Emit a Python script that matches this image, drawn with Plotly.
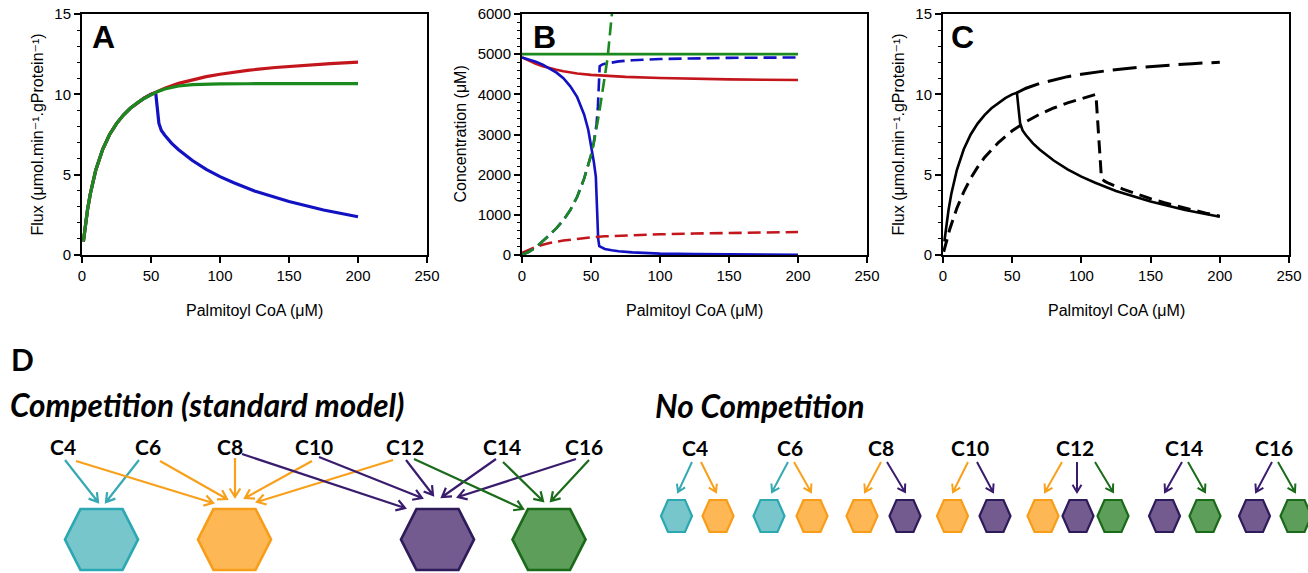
import math
import plotly.graph_objects as go

# ---------------- data ----------------
# Panel A: flux (umol/min/gProtein) vs palmitoyl-CoA (uM)
a_red_x = [1, 2, 4, 6, 8, 10, 15, 20, 25, 30, 35, 40, 45, 50, 60, 70, 80, 90, 100, 120, 140, 160, 180, 200]
a_red_y = [0.84, 1.58, 2.81, 3.80, 4.61, 5.29, 6.58, 7.50, 8.18, 8.71, 9.13, 9.47, 9.76, 10.0, 10.38, 10.68,
           10.91, 11.10, 11.25, 11.49, 11.67, 11.80, 11.91, 12.0]
a_green_x = [1, 2, 4, 6, 8, 10, 15, 20, 25, 30, 35, 40, 45, 50, 55, 60, 70, 80, 90, 100, 120, 150, 200]
a_green_y = [0.84, 1.58, 2.81, 3.80, 4.61, 5.29, 6.58, 7.50, 8.18, 8.71, 9.13, 9.47, 9.74, 9.98, 10.18, 10.33,
             10.52, 10.60, 10.64, 10.65, 10.66, 10.67, 10.67]
a_blue_x = [1, 2, 4, 6, 8, 10, 15, 20, 25, 30, 35, 40, 45, 50, 53.4, 55.7, 57.5, 60, 65, 70, 75, 80, 90, 100,
            110, 125, 150, 175, 200]
a_blue_y = [0.84, 1.58, 2.81, 3.80, 4.61, 5.29, 6.58, 7.50, 8.18, 8.71, 9.13, 9.47, 9.76, 10.0, 10.1, 8.2, 7.75,
            7.45, 6.95, 6.55, 6.2, 5.88, 5.33, 4.88, 4.5, 3.98, 3.33, 2.8, 2.38]

# Panel B: concentrations (uM)
b_green_x = [0, 200]
b_green_y = [5000, 5000]
b_red_x = [0, 5, 10, 15, 20, 25, 30, 40, 50, 60, 75, 100, 125, 150, 175, 200]
b_red_y = [4920, 4830, 4760, 4700, 4650, 4610, 4575, 4520, 4485, 4460, 4435, 4405, 4385, 4372, 4364, 4358]
b_blue_x = [0, 5, 10, 15, 20, 25, 30, 35, 40, 45, 48, 50, 52, 53.5, 54.5, 55.2, 56, 58, 60, 65, 70, 80, 90,
            100, 125, 150, 175, 200]
b_blue_y = [4920, 4870, 4810, 4740, 4650, 4540, 4400, 4200, 3930, 3500, 3120, 2740, 2330, 1950, 1200, 400, 220,
            180, 150, 120, 95, 65, 45, 35, 22, 14, 8, 5]
b_bluedash_x = [0, 5, 10, 15, 20, 25, 30, 35, 40, 45, 50, 52, 54, 55, 55.6, 56.3, 58, 60, 70, 80, 100, 125,
                150, 200]
b_bluedash_y = [0, 80, 190, 340, 500, 670, 870, 1120, 1450, 1900, 2480, 2800, 3250, 3700, 4300, 4700, 4740,
                4760, 4820, 4850, 4880, 4898, 4908, 4918]
b_greendash_x = [0, 5, 10, 15, 20, 25, 30, 35, 40, 45, 50, 52, 54, 56, 58, 60, 61, 62, 63, 64, 65, 66]
b_greendash_y = [0, 80, 190, 340, 500, 670, 870, 1120, 1450, 1900, 2480, 2780, 3150, 3550, 4000, 4450, 4650,
                 4900, 5250, 5600, 5950, 6300]
b_reddash_x = [0, 5, 10, 15, 20, 30, 40, 50, 60, 75, 100, 125, 150, 175, 200]
b_reddash_y = [50, 130, 200, 255, 300, 360, 405, 440, 465, 490, 515, 535, 550, 562, 572]

# Panel C: flux, black lines
c_solid_x = [1, 2, 4, 6, 8, 10, 15, 20, 25, 30, 35, 40, 45, 50, 53.4, 55.7, 57.5, 60, 65, 70, 75, 80, 90, 100,
             110, 125, 150, 175, 200]
c_solid_y = [0.84, 1.58, 2.81, 3.80, 4.61, 5.29, 6.58, 7.50, 8.18, 8.71, 9.13, 9.47, 9.76, 10.0, 10.1, 8.2,
             7.75, 7.45, 6.95, 6.55, 6.2, 5.88, 5.33, 4.88, 4.5, 3.98, 3.33, 2.8, 2.38]
c_up_x = [53.4, 55, 60, 70, 80, 90, 100, 120, 140, 160, 180, 200]
c_up_y = [10.1, 10.18, 10.38, 10.68, 10.91, 11.10, 11.25, 11.49, 11.67, 11.80, 11.91, 12.0]
c_low_x = [0.5, 2.5, 5, 10, 15, 20, 25, 30, 40, 50, 60, 70, 80, 90, 100, 110.5, 114.5, 117, 120, 130, 140,
           150, 160, 170, 180, 190, 200]
c_low_y = [0.2, 0.87, 1.64, 2.91, 3.93, 4.77, 5.47, 6.07, 7.0, 7.73, 8.3, 8.77, 9.15, 9.47, 9.75, 10.0, 4.75,
           4.58, 4.45, 4.1, 3.8, 3.5, 3.25, 3.02, 2.8, 2.6, 2.42]

# Panel D: substrate chain lengths and enzyme specificities
chains = ["C4", "C6", "C8", "C10", "C12", "C14", "C16"]
enzymes = ["SCAD", "MCAD", "LCAD", "VLCAD"]
specificity = {
    "SCAD": ["C4", "C6"],
    "MCAD": ["C4", "C6", "C8", "C10", "C12"],
    "LCAD": ["C8", "C10", "C12", "C14", "C16"],
    "VLCAD": ["C12", "C14", "C16"],
}

# ---------------- styling / layout constants ----------------
W, H = 1308, 573
RED, GREEN, BLUE = "#C3161C", "#1B8A1E", "#1212C2"
FILL = {"SCAD": "#76C6CB", "MCAD": "#FDB855", "LCAD": "#735A8F", "VLCAD": "#5C9E5A"}
STROKE = {"SCAD": "#2CA8B2", "MCAD": "#F89D1A", "LCAD": "#2D1B5A", "VLCAD": "#1A6A1A"}
ARROW = {"SCAD": "#36A9B3", "MCAD": "#F8A01C", "LCAD": "#3A1C6E", "VLCAD": "#1A6B1A"}
AX_FONT = "Liberation Sans, Arial, DejaVu Sans, sans-serif"
D_FONT = "Lato, Open Sans, sans-serif"

# plot-area pixel boxes (left, right) ; shared top/bottom
PX = {"A": (82, 427), "B": (522, 867), "C": (943, 1289)}
TOP, BOT = 14, 255

# diagram positions (pixels)
comp_label_x = {"C4": 63, "C6": 148, "C8": 230, "C10": 314, "C12": 405, "C14": 502, "C16": 584}
comp_hex_x = {"SCAD": 101.5, "MCAD": 234.5, "LCAD": 437.5, "VLCAD": 549}
comp_arrows = {
    ("C4", "SCAD"): ((65, 460), (98, 502)),
    ("C6", "SCAD"): ((139, 460), (106, 502)),
    ("C4", "MCAD"): ((76, 461), (213, 503)),
    ("C6", "MCAD"): ((160, 461), (227, 499)),
    ("C8", "MCAD"): ((235, 458), (235, 497)),
    ("C10", "MCAD"): ((312, 461), (245, 498)),
    ("C12", "MCAD"): ((393, 460), (257, 502)),
    ("C8", "LCAD"): ((242, 454), (405, 508)),
    ("C10", "LCAD"): ((319, 457), (422, 498)),
    ("C12", "LCAD"): ((406, 460), (433, 495)),
    ("C14", "LCAD"): ((496, 459), (442, 497)),
    ("C16", "LCAD"): ((576, 459), (458, 497)),
    ("C12", "VLCAD"): ((414, 459), (523, 509)),
    ("C14", "VLCAD"): ((503, 462), (543, 501)),
    ("C16", "VLCAD"): ((589, 460), (551, 501)),
}
nc_label_x = {"C4": 695, "C6": 790, "C8": 881, "C10": 970, "C12": 1075, "C14": 1184, "C16": 1274}
nc_hex_x = {
    ("C4", "SCAD"): 676.5, ("C4", "MCAD"): 718,
    ("C6", "SCAD"): 769, ("C6", "MCAD"): 812,
    ("C8", "MCAD"): 862, ("C8", "LCAD"): 905,
    ("C10", "MCAD"): 952.5, ("C10", "LCAD"): 995,
    ("C12", "MCAD"): 1043, ("C12", "LCAD"): 1078, ("C12", "VLCAD"): 1113,
    ("C14", "LCAD"): 1164.5, ("C14", "VLCAD"): 1205,
    ("C16", "LCAD"): 1254.5, ("C16", "VLCAD"): 1296,
}
nc_arrows = {
    ("C4", "SCAD"): ((692, 462), (678, 492)),
    ("C4", "MCAD"): ((701, 462), (716, 492)),
    ("C6", "SCAD"): ((788, 462), (772, 492)),
    ("C6", "MCAD"): ((794, 462), (811, 492)),
    ("C8", "MCAD"): ((881, 462), (865, 492)),
    ("C8", "LCAD"): ((887, 462), (905, 492)),
    ("C10", "MCAD"): ((968, 462), (953, 492)),
    ("C10", "LCAD"): ((977, 462), (993, 492)),
    ("C12", "MCAD"): ((1062, 462), (1045, 492)),
    ("C12", "LCAD"): ((1077, 462), (1077, 492)),
    ("C12", "VLCAD"): ((1095, 462), (1113, 492)),
    ("C14", "LCAD"): ((1182, 462), (1165, 492)),
    ("C14", "VLCAD"): ((1188, 462), (1205, 492)),
    ("C16", "LCAD"): ((1272, 462), (1256, 492)),
    ("C16", "VLCAD"): ((1278, 462), (1295, 492)),
}

# ---------------- figure ----------------
fig = go.Figure()


def line(x, y, color, width, dash="solid", ax="1"):
    fig.add_trace(go.Scatter(
        x=x, y=y, mode="lines", line=dict(color=color, width=width, dash=dash),
        xaxis="x" if ax == "1" else "x" + ax, yaxis="y" if ax == "1" else "y" + ax,
        showlegend=False, hoverinfo="skip"))


# Panel A
line(a_blue_x, a_blue_y, BLUE, 3.2)
line(a_red_x, a_red_y, RED, 3.2)
line(a_green_x, a_green_y, GREEN, 3.2)
# Panel B
line(b_green_x, b_green_y, GREEN, 2.6, ax="2")
line(b_red_x, b_red_y, RED, 2.6, ax="2")
line(b_blue_x, b_blue_y, BLUE, 2.6, ax="2")
line(b_reddash_x, b_reddash_y, RED, 2.6, "13px,6px", ax="2")
line(b_bluedash_x, b_bluedash_y, BLUE, 2.6, "13px,6px", ax="2")
line(b_greendash_x, b_greendash_y, GREEN, 2.6, "13px,6px", ax="2")
# Panel C
line(c_solid_x, c_solid_y, "black", 2.6, ax="3")
line(c_up_x, c_up_y, "black", 3, "24px,9px", ax="3")
line(c_low_x, c_low_y, "black", 3, "13px,7px", ax="3")
# dummy for diagram axes
fig.add_trace(go.Scatter(x=[None], y=[None], xaxis="x4", yaxis="y4", showlegend=False, hoverinfo="skip"))


def xdom(key):
    l, r = PX[key]
    return [l / W, r / W]


ydom = [1 - BOT / H, 1 - TOP / H]


def axis(dom, rng, dtick, anchor, minor=None, ticklen=6):
    d = dict(domain=dom, range=rng, dtick=dtick, tick0=0, anchor=anchor, automargin=False,
             showline=True, linecolor="black", linewidth=2, mirror=True,
             ticks="outside", ticklen=ticklen, tickwidth=1.5, tickcolor="black",
             showgrid=False, zeroline=False, fixedrange=True,
             tickfont=dict(family=AX_FONT, size=15, color="black"))
    if minor:
        d["minor"] = dict(dtick=minor, tick0=0, ticks="outside", ticklen=3, tickwidth=1,
                          tickcolor="black", showgrid=False)
    return d


fig.update_layout(
    template="none",
    width=W, height=H, margin=dict(l=0, r=0, t=0, b=0, pad=0, autoexpand=False),
    paper_bgcolor="white", plot_bgcolor="rgba(0,0,0,0)", showlegend=False,
    xaxis=axis(xdom("A"), [0, 250], 50, "y"),
    yaxis=axis(ydom, [0, 15], 5, "x", minor=1),
    xaxis2=axis(xdom("B"), [0, 250], 50, "y2"),
    yaxis2=axis(ydom, [0, 6000], 1000, "x2", minor=200),
    xaxis3=axis(xdom("C"), [0, 250], 50, "y3"),
    yaxis3=axis(ydom, [0, 15], 5, "x3", minor=1),
    xaxis4=dict(domain=[0, 1], range=[0, W], visible=False, fixedrange=True, anchor="y4", automargin=False),
    yaxis4=dict(domain=[0, 1 - 330 / H], range=[H, 330], visible=False, fixedrange=True, anchor="x4",
                automargin=False),
)

ann = []
# axis titles and panel letters
flux_title = "Flux (\u03bcmol.min\u207b\u00b9.gProtein\u207b\u00b9)"
for key, ytitle, ytx, letter, lx in [("A", flux_title, 37, "A", 103),
                                     ("B", "Concentration (\u03bcM)", 460, "B", 544),
                                     ("C", flux_title, 898, "C", 962)]:
    l, r = PX[key]
    ann.append(dict(x=(l + r) / 2 / W, y=1 - 310 / H, xref="paper", yref="paper",
                    text="Palmitoyl CoA (\u03bcM)", showarrow=False,
                    font=dict(family=AX_FONT, size=16, color="black"), xanchor="center", yanchor="middle"))
    ann.append(dict(x=ytx / W, y=1 - (TOP + BOT) / 2 / H, xref="paper", yref="paper",
                    text=ytitle, textangle=-90, showarrow=False,
                    font=dict(family=AX_FONT, size=16, color="black"), xanchor="center", yanchor="middle"))
    ann.append(dict(x=lx / W, y=1 - 37 / H, xref="paper", yref="paper",
                    text="<b>%s</b>" % letter, showarrow=False,
                    font=dict(family=AX_FONT, size=32, color="black"), xanchor="center", yanchor="middle"))

# Diagram texts
ann.append(dict(x=9, y=359, xref="x4", yref="y4", text="<b>D</b>", showarrow=False,
                font=dict(family=D_FONT, size=30, color="black"), xanchor="left", yanchor="middle"))
ann.append(dict(x=8, y=405, xref="x4", yref="y4", text="<b><i>Competition (standard model)</i></b>",
                showarrow=False, font=dict(family=D_FONT, size=31.5, color="black"),
                xanchor="left", yanchor="middle"))
ann.append(dict(x=653, y=406, xref="x4", yref="y4", text="<b><i>No Competition</i></b>",
                showarrow=False, font=dict(family=D_FONT, size=31.5, color="black"),
                xanchor="left", yanchor="middle"))
for c in chains:
    ann.append(dict(x=comp_label_x[c], y=446, xref="x4", yref="y4", text="<b>%s</b>" % c, showarrow=False,
                    font=dict(family=D_FONT, size=21, color="black"), xanchor="center", yanchor="middle"))
    ann.append(dict(x=nc_label_x[c], y=447, xref="x4", yref="y4", text="<b>%s</b>" % c, showarrow=False,
                    font=dict(family=D_FONT, size=21, color="black"), xanchor="center", yanchor="middle"))

shapes = []


def hexagon(cx, cy, hw, he, hh, enz, lw):
    p = (f"M{cx - hw},{cy} L{cx - he},{cy - hh} L{cx + he},{cy - hh} L{cx + hw},{cy} "
         f"L{cx + he},{cy + hh} L{cx - he},{cy + hh} Z")
    shapes.append(dict(type="path", path=p, xref="x4", yref="y4", fillcolor=FILL[enz],
                       line=dict(color=STROKE[enz], width=lw), layer="above"))


def arrow(p0, p1, color, lw=2.2, head=10, ang=32):
    (x0, y0), (x1, y1) = p0, p1
    dx, dy = x1 - x0, y1 - y0
    n = math.hypot(dx, dy)
    ux, uy = dx / n, dy / n
    a = math.radians(ang)
    lx = x1 - head * (ux * math.cos(a) - uy * math.sin(a))
    ly = y1 - head * (ux * math.sin(a) + uy * math.cos(a))
    rx = x1 - head * (ux * math.cos(a) + uy * math.sin(a))
    ry = y1 - head * (-ux * math.sin(a) + uy * math.cos(a))
    p = f"M{x0},{y0} L{x1},{y1} M{lx:.2f},{ly:.2f} L{x1},{y1} L{rx:.2f},{ry:.2f}"
    shapes.append(dict(type="path", path=p, xref="x4", yref="y4",
                       line=dict(color=color, width=lw), layer="above"))


# competition diagram
for enz in enzymes:
    hexagon(comp_hex_x[enz], 539.5, 36.5, 21, 30.5, enz, 2.7)
    for c in specificity[enz]:
        arrow(*comp_arrows[(c, enz)], ARROW[enz])
# no-competition diagram
for enz in enzymes:
    for c in specificity[enz]:
        hexagon(nc_hex_x[(c, enz)], 516, 15.5, 8.5, 16, enz, 2.2)
        arrow(*nc_arrows[(c, enz)], ARROW[enz], lw=2, head=8.5)

fig.update_layout(annotations=ann, shapes=shapes)
fig.write_html("out.html", config={"displayModeBar": False},
               post_script="document.body.style.margin='0px';")
